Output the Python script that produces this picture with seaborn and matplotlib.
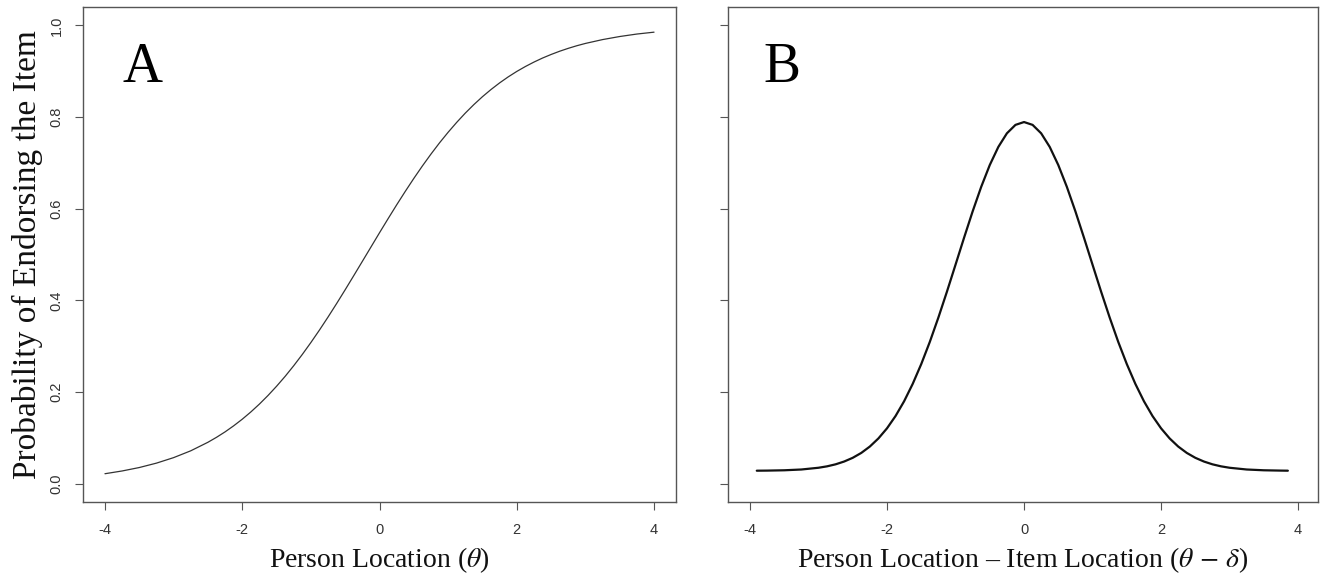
import numpy as np
import pandas as pd
import matplotlib
matplotlib.use("Agg")
import matplotlib.pyplot as plt
import seaborn as sns

# Item characteristic curve (panel A)
theta_a = [-4.0, -3.75, -3.5, -3.25, -3.0, -2.75, -2.5, -2.375, -2.25, -2.125,
           -2.0, -1.875, -1.75, -1.625, -1.5, -1.375, -1.25, -1.125, -1.0, -0.875,
           -0.75, -0.625, -0.5, -0.375, -0.25, -0.125, 0.0, 0.125, 0.25, 0.375,
           0.5, 0.625, 0.75, 0.875, 1.0, 1.125, 1.25, 1.375, 1.5, 1.625, 1.75,
           1.875, 2.0, 2.125, 2.25, 2.375, 2.5, 2.625, 2.75, 2.875, 3.0, 3.25,
           3.5, 3.75, 4.0]
prob_a = [0.0217, 0.0277, 0.0352, 0.0448, 0.0568, 0.0717, 0.0903, 0.1011, 0.1130,
          0.1262, 0.1406, 0.1564, 0.1736, 0.1923, 0.2125, 0.2341, 0.2573, 0.2819,
          0.3079, 0.3351, 0.3635, 0.3929, 0.4231, 0.4539, 0.4850, 0.5162, 0.5474,
          0.5781, 0.6083, 0.6376, 0.6660, 0.6932, 0.7191, 0.7437, 0.7667, 0.7883,
          0.8085, 0.8271, 0.8443, 0.8600, 0.8744, 0.8875, 0.8994, 0.9101, 0.9198,
          0.9286, 0.9364, 0.9435, 0.9498, 0.9555, 0.9605, 0.9689, 0.9756, 0.9810,
          0.9851]

# Unfolding (ideal point) response curve (panel B)
diff_b = [-3.9, -3.75, -3.5, -3.25, -3.0, -2.875, -2.75, -2.625, -2.5, -2.375,
          -2.25, -2.125, -2.0, -1.875, -1.75, -1.625, -1.5, -1.375, -1.25, -1.125,
          -1.0, -0.875, -0.75, -0.625, -0.5, -0.375, -0.25, -0.125, 0.0, 0.125,
          0.25, 0.375, 0.5, 0.625, 0.75, 0.875, 1.0, 1.125, 1.25, 1.375, 1.5,
          1.625, 1.75, 1.875, 2.0, 2.125, 2.25, 2.375, 2.5, 2.625, 2.75, 2.875,
          3.0, 3.25, 3.5, 3.75, 3.85]
prob_b = [0.0283, 0.0285, 0.0292, 0.0309, 0.0347, 0.0378, 0.0422, 0.0483, 0.0564,
          0.0671, 0.0810, 0.0987, 0.1207, 0.1476, 0.1798, 0.2176, 0.2609, 0.3093,
          0.3624, 0.4189, 0.4776, 0.5366, 0.5940, 0.6476, 0.6952, 0.7347, 0.7644,
          0.7828, 0.7890, 0.7828, 0.7644, 0.7347, 0.6952, 0.6476, 0.5940, 0.5366,
          0.4776, 0.4189, 0.3624, 0.3093, 0.2609, 0.2176, 0.1798, 0.1476, 0.1207,
          0.0987, 0.0810, 0.0671, 0.0564, 0.0483, 0.0422, 0.0378, 0.0347, 0.0309,
          0.0292, 0.0285, 0.0283]

x_ticks = [-4, -2, 0, 2, 4]
y_ticks = [0.0, 0.2, 0.4, 0.6, 0.8, 1.0]
x_ticklabels = ["-4", "-2", "0", "2", "4"]
y_ticklabels = ["0.0", "0.2", "0.4", "0.6", "0.8", "1.0"]

sns.set_theme(style="ticks")
plt.rcParams["font.family"] = ["Liberation Sans", "DejaVu Sans"]
plt.rcParams["mathtext.fontset"] = "stix"

df_a = pd.DataFrame({"theta": theta_a, "p": prob_a})
df_b = pd.DataFrame({"d": diff_b, "p": prob_b})

fig = plt.figure(figsize=(13.2, 5.76), dpi=100)
W, H = 1320, 576

def place(l, r, t, b):
    return [l / W, 1 - b / H, (r - l) / W, (b - t) / H]

ax_a = fig.add_axes(place(83, 676, 7, 502))
ax_b = fig.add_axes(place(728, 1318, 7, 502))

sns.lineplot(data=df_a, x="theta", y="p", ax=ax_a, color="#333333",
             linewidth=0.9, sort=False)
sns.lineplot(data=df_b, x="d", y="p", ax=ax_b, color="#111111",
             linewidth=1.6, sort=False)

serif = ["Liberation Serif", "DejaVu Serif"]

for ax, xr in ((ax_a, (-4.32, 4.32)), (ax_b, (-4.32, 4.29))):
    ax.set_xlim(*xr)
    ax.set_ylim(-0.04, 1.04)
    ax.set_xticks(x_ticks)
    ax.set_xticklabels(x_ticklabels)
    ax.set_yticks(y_ticks)
    for side in ("top", "right", "left", "bottom"):
        ax.spines[side].set_visible(True)
        ax.spines[side].set_color("#555555")
        ax.spines[side].set_linewidth(1.0)
    ax.tick_params(axis="both", direction="out", length=6, width=0.8,
                   color="#555555", labelsize=10.5, labelcolor="#333333")
    ax.tick_params(axis="x", pad=9)
    ax.tick_params(axis="y", pad=8)
    ax.set_xlabel("")
    ax.set_ylabel("")

ax_a.set_yticklabels(y_ticklabels, rotation=90, va="center")
ax_b.set_yticklabels([])

ax_a.set_xlabel(r"Person Location ($\theta$)", fontsize=20, family=serif,
                labelpad=6, color="#111111")
ax_b.set_xlabel(r"Person Location – Item Location ($\theta\,-\,\delta$)",
                fontsize=20, family=serif, labelpad=6, color="#111111")
ax_a.set_ylabel("Probability of Endorsing the Item", fontsize=24, family=serif,
                labelpad=5, color="#111111")

ax_a.text(-3.45, 0.908, "A", fontsize=40, family=serif, ha="center",
          va="center", color="black")
ax_b.text(-3.53, 0.908, "B", fontsize=40, family=serif, ha="center",
          va="center", color="black")

fig.savefig("out.png", dpi=100)
